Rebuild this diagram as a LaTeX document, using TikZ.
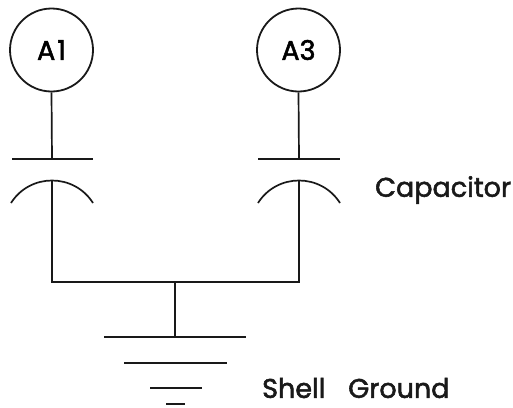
\documentclass[tikz,border=0pt]{standalone}
\usepackage{fontspec}
\setmainfont[FakeBold=2]{Poppins}
\begin{document}
\begin{tikzpicture}[x=1pt,y=-1pt,
  wire/.style={line width=1.7pt,draw=black!90},
  lab/.style={font=\fontsize{27}{30}\selectfont,text=black!90,inner sep=0pt},
  atom/.style={circle,draw=black!90,line width=1.8pt,minimum size=83pt,inner sep=0pt,font=\fontsize{27}{30}\selectfont}]
\useasboundingbox (0,0) rectangle (513,407);
\node[atom] (a1) at (51.5,50) {A\kern2pt 1};
\node[atom] (a3) at (298.5,50) {A3};
\coordinate (p1) at (52,159);
\coordinate (p3) at (299,159);
\coordinate (l1) at (52,181);
\coordinate (l3) at (299,181);
\coordinate (j1) at (52,282);
\coordinate (j3) at (299,282);
\coordinate (g) at (175,282);
\coordinate (g0) at (175,337);
\draw[wire] (a1.south) -- (p1);
\draw[wire] (a3.south) -- (p3);
\draw[wire] (12,159) -- (93,159);
\draw[wire] (258,159) -- (340,159);
\draw[wire] (11,203) .. controls (30,173) and (74,173) .. (93,203);
\draw[wire] (258,203) .. controls (277,173) and (321,173) .. (340,203);
\draw[wire] (l1) -- (j1) -- (j3) -- (l3);
\draw[wire] (g) -- (g0);
\draw[wire] (104,337) -- (246,337);
\draw[wire] (124,363) -- (227,363);
\draw[wire] (150,388) -- (202,388);
\draw[wire] (166,404) -- (185,404);
\node[lab,anchor=west] (c) at (375,190) {Capacitor};
\node[lab,anchor=west] (s) at (262,388) {Shell\hspace{0.85em}Ground};
\end{tikzpicture}
\end{document}
